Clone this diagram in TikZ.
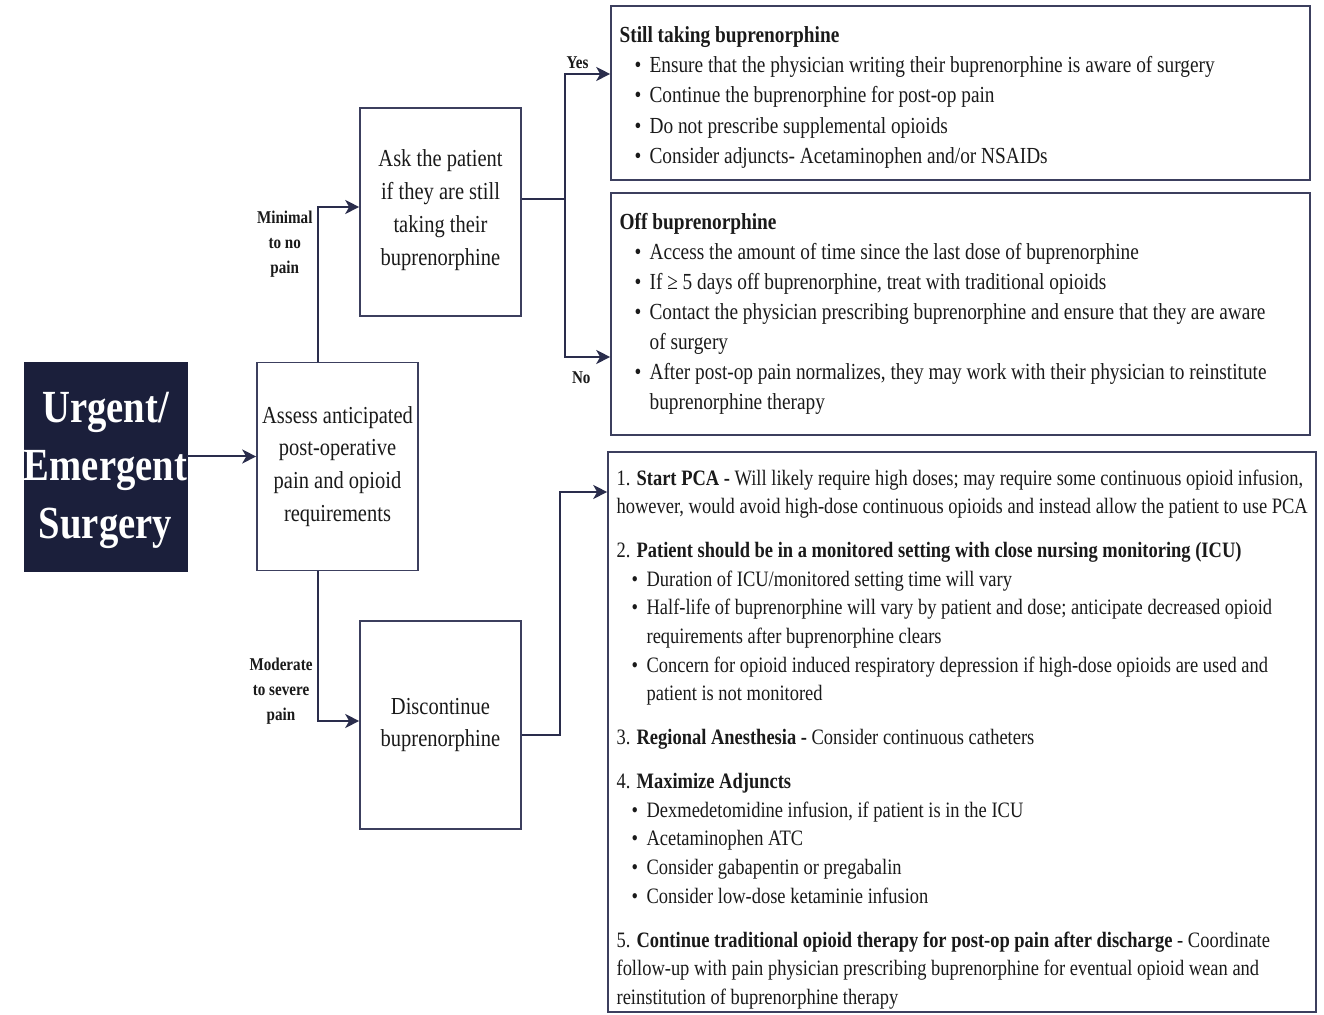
\documentclass[tikz,border=0pt]{standalone}
\usepackage{fontspec}
\setmainfont{Liberation Serif}[FakeStretch=0.84]
\usetikzlibrary{arrows.meta, positioning}

\definecolor{navy}{HTML}{1B1F3B}
\definecolor{linecol}{HTML}{2A2D4C}
\definecolor{boxline}{HTML}{3C3F5E}
\definecolor{txt}{HTML}{1A1A1A}

\tikzstyle{startbox} = [rectangle, draw=navy, fill=navy, text=white, minimum width=81.5pt, minimum height=104.5pt, align=center, inner sep=0pt, font=\fontsize{23}{29}\selectfont\bfseries]
\tikzstyle{stepbox} = [rectangle, draw=boxline, line width=0.8pt, minimum width=80.5pt, minimum height=104pt, align=center, inner sep=0pt, text=txt, font=\fontsize{12.2}{16.4}\selectfont]
\tikzstyle{infobox} = [rectangle, draw=boxline, line width=0.8pt]
\tikzstyle{listtext} = [anchor=north west, inner sep=0pt, align=left, text=txt]
\tikzstyle{branch} = [align=center, text=txt, inner sep=2pt, font=\fontsize{9}{12.5}\selectfont\bfseries]
\tikzstyle{arrow} = [line width=1pt, draw=linecol, -{Stealth[length=7pt, width=7pt, inset=2pt]}]
\tikzstyle{joint} = [line width=1pt, draw=linecol]

\newcommand{\bitem}{\hspace*{7.5pt}\makebox[7.5pt][l]{\textbullet}}
\newcommand{\bcont}{\hspace*{15pt}}

\begin{document}
\begin{tikzpicture}[x=0.5pt, y=-0.5pt]

    \useasboundingbox (0,0) rectangle (1324,1015);

    \node (urgent) [startbox] at (105.5,466.5) {\raisebox{-2pt}[\height][\depth]{\parbox{81.5pt}{\centering Urgent/\\Emergent\\Surgery}}};
    \node (assess) [stepbox] at (337.5,466.5) {Assess anticipated\\post-operative\\pain and opioid\\requirements};
    \node (ask) [stepbox] at (440.5,212) {\raisebox{1pt}[\height][\depth]{\parbox{80pt}{\centering Ask the patient\\if they are still\\taking their\\buprenorphine}}};
    \node (disc) [stepbox] at (440.5,725) {Discontinue\\buprenorphine};

    % right hand boxes
    \node (still) [infobox, minimum width=349.5pt, minimum height=87pt] at (960.5,93) {};
    \node (off) [infobox, minimum width=349.5pt, minimum height=121pt] at (960.5,314) {};
    \node (plan) [infobox, minimum width=354pt, minimum height=280pt] at (962,732) {};

    \node (stilltxt) [listtext, font=\fontsize{11.5}{15.1}\selectfont] at ([xshift=4.5pt, yshift=-10.5pt]still.north west) {%
        \textbf{Still taking buprenorphine}\\
        \bitem Ensure that the physician writing their buprenorphine is aware of surgery\\
        \bitem Continue the buprenorphine for post-op pain\\
        \bitem Do not prescribe supplemental opioids\\
        \bitem Consider adjuncts- Acetaminophen and/or NSAIDs};

    \node (offtxt) [listtext, font=\fontsize{11.5}{15}\selectfont] at ([xshift=4.5pt, yshift=-10.5pt]off.north west) {%
        \textbf{Off buprenorphine}\\
        \bitem Access the amount of time since the last dose of buprenorphine\\
        \bitem If ≥ 5 days off buprenorphine, treat with traditional opioids\\
        \bitem Contact the physician prescribing buprenorphine and ensure that they are aware\\
        \bcont of surgery\\
        \bitem After post-op pain normalizes, they may work with their physician to reinstitute\\
        \bcont buprenorphine therapy};

    \node (plantxt) [listtext, font=\fontsize{11}{14.3}\selectfont] at ([xshift=4.5pt, yshift=-9pt]plan.north west) {%
        1. \textbf{Start PCA -} Will likely require high doses; may require some continuous opioid infusion,\\
        however, would avoid high-dose continuous opioids and instead allow the patient to use PCA\\[7.7pt]
        2. \textbf{Patient should be in a monitored setting with close nursing monitoring (ICU)}\\
        \bitem Duration of ICU/monitored setting time will vary\\
        \bitem Half-life of buprenorphine will vary by patient and dose; anticipate decreased opioid\\
        \bcont requirements after buprenorphine clears\\
        \bitem Concern for opioid induced respiratory depression if high-dose opioids are used and\\
        \bcont patient is not monitored\\[7.7pt]
        3. \textbf{Regional Anesthesia -} Consider continuous catheters\\[7.7pt]
        4. \textbf{Maximize Adjuncts}\\
        \bitem Dexmedetomidine infusion, if patient is in the ICU\\
        \bitem Acetaminophen ATC\\
        \bitem Consider gabapentin or pregabalin\\
        \bitem Consider low-dose ketaminie infusion\\[7.7pt]
        5. \textbf{Continue traditional opioid therapy for post-op pain after discharge} - Coordinate\\
        follow-up with pain physician prescribing buprenorphine for eventual opioid wean and\\
        reinstitution of buprenorphine therapy};

    \coordinate (split) at (565,199);
    \coordinate (jdisc) at (560,735);

    \draw [arrow] ([yshift=5pt]urgent.east) -- ([yshift=5pt]assess.west);
    \draw [arrow] ([xshift=-10pt]assess.north) |- node[branch, left, pos=0.38] {Minimal\\to no\\pain} ([yshift=2.5pt]ask.west);
    \draw [arrow] ([xshift=-10pt]assess.south) |- node[branch, left, pos=0.4] {Moderate\\to severe\\pain} ([yshift=2pt]disc.west);

    \draw [joint] ([yshift=6.5pt]ask.east) -- (split);
    \draw [arrow] (split) |- node[branch, above, pos=0.64] {Yes} ([yshift=9.5pt]still.west);
    \draw [arrow] (split) |- node[branch, below, pos=0.68, yshift=-5pt] {No} ([yshift=-21.5pt]off.west);

    \draw [arrow] ([yshift=-5pt]disc.east) -- (jdisc) |- ([yshift=120pt]plan.west);

\end{tikzpicture}
\end{document}
